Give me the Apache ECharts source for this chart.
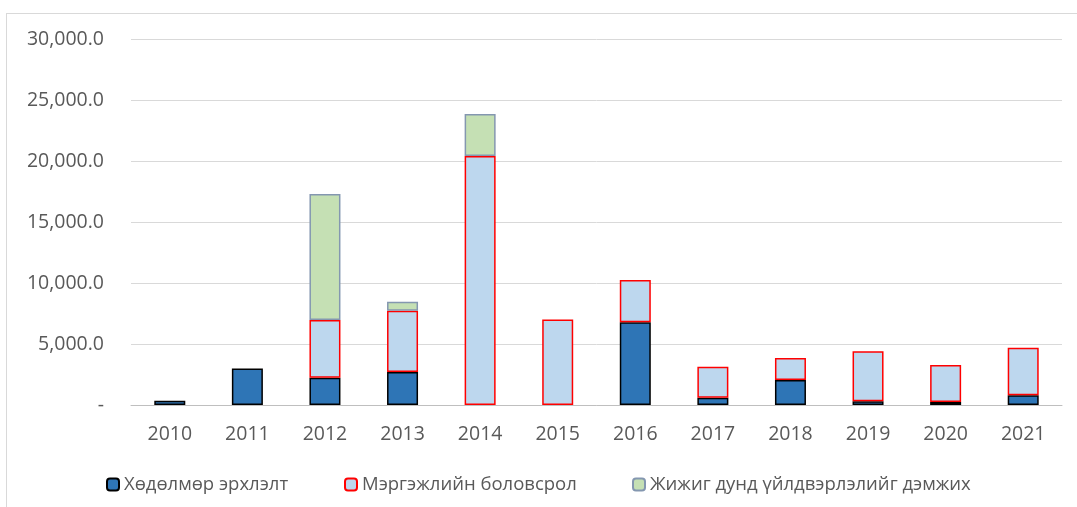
<!DOCTYPE html>
<html>
<head>
<meta charset="utf-8">
<script src="https://cdn.jsdelivr.net/npm/echarts@6/dist/echarts.min.js"></script>
<style>
  html, body { margin: 0; padding: 0; background: #fff; }
  #frame {
    position: absolute; left: 6px; top: 13px; width: 1080px; height: 520px;
    border-left: 1px solid #d9d9d9; border-top: 1px solid #d9d9d9;
  }
  #chart { position: absolute; left: 0; top: 0; width: 1077px; height: 507px; }
</style>
</head>
<body>
<div id="frame"></div>
<div id="chart"></div>
<script>
// ангилал (он)
const years = ["2010", "2011", "2012", "2013", "2014", "2015", "2016", "2017", "2018", "2019", "2020", "2021"];
// Хөдөлмөр эрхлэлт
const employment = [350, 3000, 2240, 2700, 0, 0, 6780, 600, 2050, 300, 250, 800];
// Мэргэжлийн боловсрол
const vocational = [0, 0, 4730, 5030, 20410, 7000, 3470, 2540, 1800, 4100, 3030, 3900];
// Жижиг дунд үйлдвэрлэлийг дэмжих
const sme = [0, 0, 10330, 740, 3440, 0, 0, 0, 0, 0, 0, 0];

const seriesNames = ["Хөдөлмөр эрхлэлт", "Мэргэжлийн боловсрол", "Жижиг дунд үйлдвэрлэлийг дэмжих"];

const font = "'Open Sans', sans-serif";
const labelColor = "#595959";

let myChart = echarts.init(document.getElementById("chart"));

function yLabel(v) {
  if (v === 0) return "-";
  return v.toLocaleString("en-US", { minimumFractionDigits: 1, maximumFractionDigits: 1 });
}

function zeroToNull(arr) {
  return arr.map(v => (v === 0 ? null : v));
}

// нэг легенд = нэг цуврал, байрлалыг нь тус тусад нь тааруулна
function legendAt(name, left) {
  return {
    data: [name],
    left: left,
    top: 475,
    itemWidth: 12,
    itemHeight: 12,
    padding: 0,
    textStyle: { fontFamily: font, fontSize: 18.5, color: labelColor }
  };
}

myChart.setOption({
  animation: false,
  textStyle: { fontFamily: font },
  grid: { left: 131, right: 15, top: 39, bottom: 102 },
  legend: [
    legendAt(seriesNames[0], 106),
    legendAt(seriesNames[1], 344),
    legendAt(seriesNames[2], 632)
  ],
  xAxis: {
    type: "category",
    data: years,
    axisTick: { show: false },
    axisLine: { lineStyle: { color: "#bfbfbf", width: 1 } },
    axisLabel: { color: labelColor, fontSize: 19.5, fontFamily: font, margin: 19 }
  },
  yAxis: {
    type: "value",
    min: 0,
    max: 30000,
    interval: 5000,
    axisLine: { show: false },
    axisTick: { show: false },
    splitLine: { lineStyle: { color: "#d9d9d9", width: 1 } },
    axisLabel: { color: labelColor, fontSize: 19.5, fontFamily: font, margin: 27, formatter: yLabel }
  },
  series: [
    {
      name: seriesNames[0],
      type: "bar",
      stack: "total",
      barWidth: 31,
      data: zeroToNull(employment),
      itemStyle: { color: "#2e75b6", borderColor: "#000000", borderWidth: 1.5 }
    },
    {
      name: seriesNames[1],
      type: "bar",
      stack: "total",
      barWidth: 31,
      data: zeroToNull(vocational),
      itemStyle: { color: "#bdd7ee", borderColor: "#ff0000", borderWidth: 1.5 }
    },
    {
      name: seriesNames[2],
      type: "bar",
      stack: "total",
      barWidth: 31,
      data: zeroToNull(sme),
      itemStyle: { color: "#c5e0b4", borderColor: "#8497b0", borderWidth: 1.5 }
    }
  ]
});
</script>
</body>
</html>
